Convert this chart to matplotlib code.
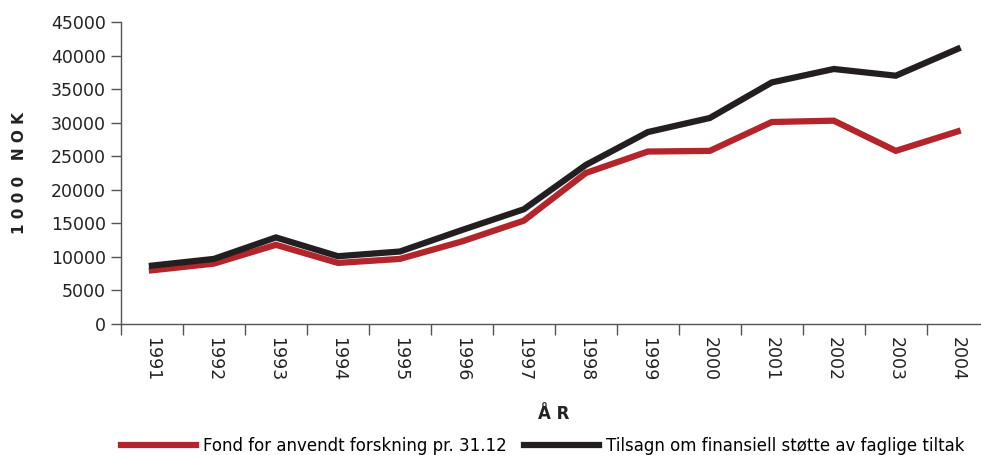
import numpy as np
import matplotlib.pyplot as plt
from matplotlib.lines import Line2D

years = ["1991", "1992", "1993", "1994", "1995", "1996", "1997",
         "1998", "1999", "2000", "2001", "2002", "2003", "2004"]
fond = [8000, 9000, 11800, 9100, 9700, 12300, 15400,
        22500, 25700, 25800, 30100, 30300, 25800, 28700]
tilsagn = [8700, 9700, 12900, 10100, 10800, 14000, 17100,
           23700, 28600, 30700, 36000, 38000, 37000, 41000]

red = "#b3242b"
black = "#231f20"
grey = "#555555"

plt.rcParams['font.family'] = 'DejaVu Sans'

fig = plt.figure(figsize=(9.81, 4.55), dpi=100)
ax = fig.add_axes([0.1233, 0.2879, 0.889, 0.6637])

x = np.arange(len(years))
ax.plot(x, fond, color=red, lw=4.5, solid_joinstyle='miter')
ax.plot(x, tilsagn, color=black, lw=4.5, solid_joinstyle='miter')

ax.set_xlim(-0.43, len(years) - 1 + 0.57)
ax.set_ylim(0, 45000)
ax.set_yticks(np.arange(0, 45001, 5000))

ax.set_xticks(x)
ax.set_xticklabels(years, rotation=270, fontsize=12.5, color="#222222")
ax.set_xticks(np.arange(-0.5, len(years), 1), minor=True)
ax.tick_params(axis='x', which='major', length=0, pad=9)
ax.tick_params(axis='x', which='minor', length=8, color=grey, width=1)
ax.tick_params(axis='y', length=7, color=grey, width=1, pad=4,
               labelsize=12.5, labelcolor="#222222")

for s in ['top', 'right']:
    ax.spines[s].set_visible(False)
for s in ['left', 'bottom']:
    ax.spines[s].set_color(grey)
    ax.spines[s].set_linewidth(1)

ax.set_ylabel("1 0 0 0   N O K", fontsize=11, fontweight='bold',
              color="#222222", labelpad=17)
fig.text(0.5647, (455 - 414) / 455, "Å R", fontsize=12,
         fontweight='bold', color="#222222", ha='center', va='center')

handles = [Line2D([], [], color=red, lw=4.5),
           Line2D([], [], color=black, lw=4.5)]
labels = ["Fond for anvendt forskning pr. 31.12",
          "Tilsagn om finansiell støtte av faglige tiltak"]
fig.legend(handles, labels, loc='center left', ncol=2, frameon=False,
           bbox_to_anchor=(0.1233, (455 - 446) / 455), fontsize=12,
           handlelength=4.5, handletextpad=0.45, columnspacing=1.0,
           borderaxespad=0, borderpad=0)

fig.savefig("out.png", dpi=100)
